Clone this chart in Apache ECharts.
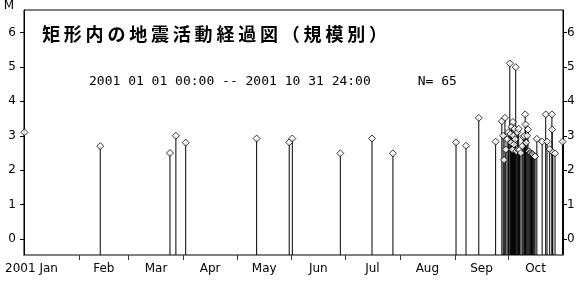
<!DOCTYPE html>
<html>
<head>
<meta charset="utf-8">
<script src="https://cdn.jsdelivr.net/npm/echarts@6/dist/echarts.min.js"></script>
<style>
  html, body { margin: 0; padding: 0; background: #fff; }
  #chart { width: 580px; height: 287px; }
</style>
</head>
<body>
<div id="chart"></div>
<script>
// event times (UTC) and magnitudes, 2001-01-01 .. 2001-10-31
const eventTimes = [
  '2001-01-01T06:00', '2001-02-13T00:00', '2001-03-24T08:00', '2001-03-27T16:00',
  '2001-04-02T05:00', '2001-05-12T05:00', '2001-05-30T14:00', '2001-06-01T08:00',
  '2001-06-28T10:00', '2001-07-16T07:00', '2001-07-28T02:00', '2001-09-01T16:00',
  '2001-09-07T07:00', '2001-09-14T12:00', '2001-09-24T00:00',
  '2001-09-27T12:00', '2001-09-28T06:00', '2001-09-28T18:00', '2001-09-29T06:00',
  '2001-09-29T18:00', '2001-09-30T12:00', '2001-10-01T06:00', '2001-10-02T00:00',
  '2001-10-02T08:00', '2001-10-02T16:00', '2001-10-03T00:00', '2001-10-03T12:00',
  '2001-10-03T18:00', '2001-10-04T00:00', '2001-10-04T08:00', '2001-10-04T16:00',
  '2001-10-05T00:00', '2001-10-05T08:00', '2001-10-05T16:00', '2001-10-06T06:00',
  '2001-10-06T18:00', '2001-10-07T00:00', '2001-10-07T12:00', '2001-10-08T06:00',
  '2001-10-09T00:00', '2001-10-09T14:00', '2001-10-10T06:00', '2001-10-10T16:00',
  '2001-10-10T20:00', '2001-10-11T06:00', '2001-10-11T18:00', '2001-10-12T06:00',
  '2001-10-12T18:00', '2001-10-13T06:00', '2001-10-13T18:00', '2001-10-14T06:00',
  '2001-10-14T18:00', '2001-10-15T06:00', '2001-10-15T18:00', '2001-10-16T06:00',
  '2001-10-17T06:00', '2001-10-20T06:00', '2001-10-22T06:00', '2001-10-23T00:00',
  '2001-10-24T12:00', '2001-10-25T18:00', '2001-10-25T22:00', '2001-10-26T06:00',
  '2001-10-27T12:00', '2001-10-31T18:00'
]
const magnitudes = [
  3.1, 2.7, 2.5, 3.0,
  2.8, 2.92, 2.81, 2.92,
  2.49, 2.92, 2.49, 2.81,
  2.71, 3.52, 2.83,
  3.42, 3.0, 2.3, 3.52,
  2.6, 2.9, 3.1, 5.1,
  3.05, 2.8, 3.26, 2.6,
  3.4, 3.0, 2.75, 3.2,
  2.9, 4.99, 2.55, 3.1,
  2.6, 3.2, 2.59, 2.5,
  2.7, 2.97, 3.0, 3.62,
  3.33, 2.8, 3.0, 3.18,
  2.55, 2.5, 2.5, 2.48,
  2.47, 2.45, 2.42, 2.4,
  2.91, 2.83, 3.62, 2.83,
  2.61, 3.62, 3.18, 2.52,
  2.49, 2.83
]
const monthStarts = ['2001-01-01', '2001-02-01', '2001-03-01', '2001-04-01', '2001-05-01',
  '2001-06-01', '2001-07-01', '2001-08-01', '2001-09-01', '2001-10-01', '2001-11-01']
const monthNames = ['2001 Jan', 'Feb', 'Mar', 'Apr', 'May', 'Jun', 'Jul', 'Aug', 'Sep', 'Oct']
const magTicks = [0, 1, 2, 3, 4, 5, 6]

const Y_MIN = -0.46
const Y_MAX = 6.65
const TITLE = '矩形内の地震活動経過図（規模別）'

const ts = s => new Date(s.length > 10 ? s + ':00Z' : s + 'T00:00:00Z').getTime()
const monthTs = monthStarts.map(ts)
const midTs = monthNames.map((_, i) => (monthTs[i] + monthTs[i + 1]) / 2)
const points = eventTimes.map((t, i) => [ts(t), magnitudes[i]])

const chart = echarts.init(document.getElementById('chart'))

const labelFont = { fontFamily: 'DejaVu Sans', fontSize: 12, color: '#000' }
const titleFont = { fontFamily: 'Noto Sans CJK JP', fontSize: 18, fontWeight: 'bold', color: '#000' }

const yAxisBase = {
  type: 'value',
  min: Y_MIN,
  max: Y_MAX,
  axisLine: { show: true, onZero: false, lineStyle: { color: '#000', width: 1 } },
  axisTick: { show: true, length: 4, customValues: magTicks, lineStyle: { color: '#000' } },
  axisLabel: { ...labelFont, customValues: magTicks },
  splitLine: { show: false },
}

chart.setOption({
  animation: false,
  grid: {
    left: 24, right: 17, top: 7, bottom: 32,
    show: true, borderColor: '#000', borderWidth: 1, backgroundColor: 'transparent',
  },
  title: [{
    // each glyph as its own rich token so the wide character pitch can be kept
    text: TITLE.split('').map(ch => '{c|' + ch + '}').join(''),
    left: 37, top: 20,
    textStyle: { ...titleFont, rich: { c: { ...titleFont, padding: [0, 3.8, 0, 0] } } },
  }, {
    text: '2001 01 01 00:00 -- 2001 10 31 24:00      N= 65',
    left: 84, top: 70,
    textStyle: { fontFamily: 'DejaVu Sans Mono', fontSize: 13, fontWeight: 'normal', color: '#000' },
  }],
  xAxis: {
    type: 'value',
    min: monthTs[0],
    max: monthTs[monthTs.length - 1],
    axisLine: { show: true, onZero: false, lineStyle: { color: '#808080', width: 2 } },
    axisTick: { show: true, length: 5, customValues: monthTs.slice(1, -1), lineStyle: { color: '#333' } },
    axisLabel: {
      ...labelFont,
      margin: 8,
      customValues: midTs,
      formatter: v => {
        const i = midTs.findIndex(m => Math.abs(m - v) < 1000)
        if (i === 0) return '{first|' + monthNames[0] + '}'
        return i >= 0 ? monthNames[i] : ''
      },
      rich: { first: { ...labelFont, padding: [0, 40, 0, 0] } },
    },
    splitLine: { show: false },
  },
  yAxis: [{
    ...yAxisBase,
    position: 'left',
    name: 'M',
    nameLocation: 'end',
    nameGap: -2,
    nameTextStyle: { ...labelFont, align: 'right', padding: [0, 10, 0, 0] },
    axisLabel: { ...yAxisBase.axisLabel, margin: 8 },
  }, {
    ...yAxisBase,
    position: 'right',
    axisLabel: { ...yAxisBase.axisLabel, margin: 4 },
  }],
  series: [{
    type: 'custom',
    renderItem: (params, api) => {
      const top = api.coord([api.value(0), api.value(1)])
      const base = api.coord([api.value(0), Y_MIN])
      return {
        type: 'line',
        shape: { x1: top[0], y1: top[1], x2: base[0], y2: base[1] },
        style: { stroke: '#000', lineWidth: 1 },
      }
    },
    encode: { x: 0, y: 1 },
    data: points,
    z: 2,
  }, {
    type: 'scatter',
    symbol: 'diamond',
    symbolSize: [7, 7],
    itemStyle: { color: '#fff', borderColor: '#000', borderWidth: 1 },
    data: points,
    z: 3,
  }],
})
</script>
</body>
</html>
